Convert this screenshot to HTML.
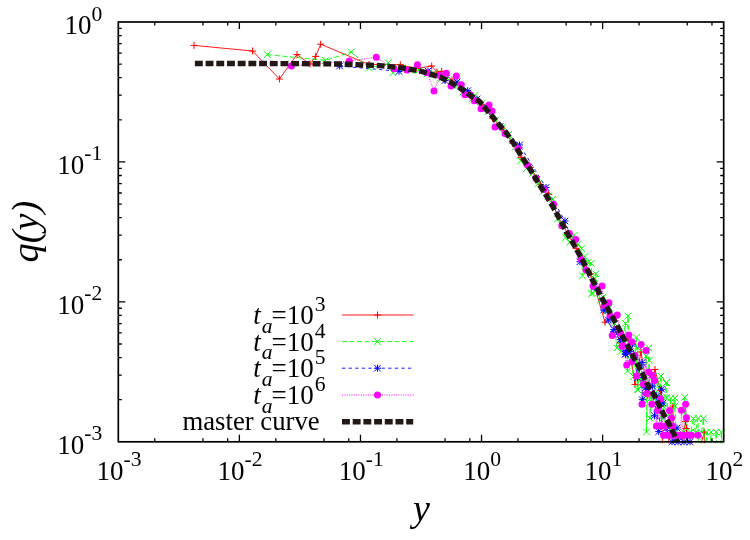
<!DOCTYPE html>
<html><head><meta charset="utf-8"><title>plot</title>
<style>html,body{margin:0;padding:0;background:#fff;}body{width:750px;height:540px;overflow:hidden;}svg{display:block;will-change:transform;}text{font-family:"Liberation Serif",serif;fill:#000;}</style></head><body>
<svg width="750" height="540" viewBox="0 0 750 540">
<rect width="750" height="540" fill="#fff"/>
<defs><clipPath id="c"><rect x="118.3" y="22.0" width="605.4" height="421.3"/></clipPath></defs>
<g clip-path="url(#c)" fill="none" stroke-linecap="butt">
<polyline points="194.0,45.4 252.6,51.0 279.4,79.0 297.0,54.6 310.0,64.0 315.7,56.4 320.7,44.2 369.0,64.5 400.3,64.7 416.0,68.5 431.7,66.0 437.0,72.0 441.7,71.3 452.0,80.0 461.0,88.0 470.0,96.1 482.3,104.3 492.8,118.4 502.2,128.2 512.5,143.1 521.2,157.4 530.4,167.3 540.5,184.5 548.6,194.3 558.1,216.7 567.4,233.4 576.2,248.4 583.6,261.3 590.8,273.9 605.0,322.2 612.0,318.0 620.0,343.0 628.0,338.0 635.0,384.4 641.0,352.0 648.0,395.0 655.0,369.5 660.5,390.4 664.0,480.0 672.8,406.0 675.0,480.0 685.5,421.5 686.5,428.5 690.0,480.0 704.4,432.2 706.0,480.0" stroke="#ff0000" stroke-width="0.9"/>
<polyline points="267.4,54.6 325.3,60.4 351.3,52.0 369.3,68.0 388.3,62.7 393.0,72.7 402.0,68.0 411.0,70.5 419.0,70.0 427.0,74.0 434.0,73.5 441.0,79.0 447.0,78.0 453.0,85.0 458.0,85.5 463.0,92.0 468.0,93.0 472.0,99.0 475.0,95.3 482.0,103.3 488.0,111.6 495.8,120.1 502.5,127.3 508.5,134.4 515.3,147.3 520.7,160.8 526.5,168.6 532.5,173.3 538.1,183.6 543.1,191.4 548.2,196.0 552.8,199.2 557.6,218.8 561.8,225.0 565.5,237.8 569.9,242.3 574.1,235.3 578.0,244.3 581.7,248.6 582.5,275.8 584.8,256.5 587.7,262.7 591.3,263.3 591.5,293.8 592.5,293.0 594.8,278.7 595.8,273.8 597.6,289.3 600.2,300.3 603.1,297.0 606.0,311.8 609.2,307.7 611.7,320.8 614.3,323.3 616.8,347.9 619.8,344.2 621.0,351.5 622.7,340.7 625.3,323.3 627.6,371.0 627.9,316.1 630.8,360.5 633.5,376.5 636.2,337.5 637.3,389.4 637.8,347.8 638.0,390.0 638.7,365.4 641.2,382.9 643.8,398.1 646.2,356.0 646.5,432.0 648.7,347.9 649.4,360.3 650.0,418.0 650.8,398.1 653.2,376.5 655.7,398.1 657.7,382.9 659.9,398.1 661.0,376.0 662.2,418.6 664.1,407.5 666.0,383.0 666.3,382.9 666.5,382.5 666.7,397.5 668.8,418.6 670.7,398.1 673.0,432.2 674.9,398.1 675.0,406.0 677.3,474.3 679.2,449.6 681.4,480.0 683.8,432.2 684.7,397.3 686.2,418.6 688.6,480.0 690.8,432.2 693.4,418.6 695.5,432.2 698.0,418.6 699.6,480.0 701.5,432.2 703.5,418.6 705.0,480.0 706.5,432.2 708.8,480.0 711.0,432.2 713.5,480.0 716.2,432.2 718.8,480.0 721.4,432.2 723.5,480.0" stroke="#00ff00" stroke-width="0.9" stroke-dasharray="5 2.5"/>
<polyline points="339.7,66.0 399.0,71.3 428.0,71.0 445.0,80.5 457.0,82.0 467.7,90.7 477.0,99.0 484.0,108.0 500.0,126.5 519.5,145.0 546.0,187.5 565.0,221.0 580.0,261.7 594.2,287.1 603.7,310.0 608.3,320.0 613.4,334.2 613.9,329.4 620.3,339.6 625.3,354.3 625.6,353.9 626.4,350.4 630.0,351.7 632.5,344.0 637.5,377.6 642.0,362.6 642.3,399.7 645.6,387.6 647.2,389.2 652.6,386.1 654.5,415.8 656.7,396.0 658.7,431.6 661.6,389.2 663.0,403.0 666.1,428.2 672.0,441.8 677.0,428.0 678.0,441.8 684.0,441.8 690.0,441.8" stroke="#0000ff" stroke-width="0.9" stroke-dasharray="3.3 3.3"/>
<polyline points="291.4,66.0 349.3,61.0 376.3,57.3 394.0,68.7 407.0,70.0 417.4,64.7 427.0,72.7 434.0,91.0 439.7,75.3 446.3,73.3 451.0,86.0 456.3,76.0 461.3,84.7 465.0,94.7 470.3,94.7 474.3,100.7 481.0,108.7 489.0,105.0 492.0,111.0 495.0,127.0 505.0,133.4 517.9,148.6 527.4,165.0 536.1,178.5 543.9,189.4 553.6,204.2 561.8,225.8 569.4,233.6 575.8,239.4 581.0,259.0 586.0,270.0 593.0,286.0 602.0,286.0 604.4,305.6 608.9,302.8 610.0,315.6 612.2,335.6 617.2,315.0 620.6,333.3 622.0,346.4 623.3,345.6 626.7,365.0 628.9,335.0 631.7,341.7 631.8,361.7 635.0,355.6 636.4,376.0 641.1,344.5 642.0,404.3 643.3,383.9 646.1,350.6 647.0,393.5 648.9,371.9 651.8,404.3 652.6,375.6 654.5,380.5 656.4,426.0 657.8,410.3 660.6,426.0 660.7,398.7 663.5,435.3 665.2,426.0 666.6,435.3 669.0,435.3 669.5,410.5 671.5,418.0 672.0,435.3 672.6,426.0 675.0,435.3 678.5,435.3 680.5,435.3 681.4,410.3 683.0,435.3 685.5,435.3 685.6,404.3 686.5,417.7 688.5,435.3 691.5,435.3 698.0,435.3" stroke="#ff00ff" stroke-width="0.9" stroke-dasharray="1.1 1.25"/>
</g>
<path d="M190.5,45.4h7.0M194.0,41.9v7.0M249.1,51.0h7.0M252.6,47.5v7.0M275.9,79.0h7.0M279.4,75.5v7.0M293.5,54.6h7.0M297.0,51.1v7.0M306.5,64.0h7.0M310.0,60.5v7.0M312.2,56.4h7.0M315.7,52.9v7.0M317.2,44.2h7.0M320.7,40.7v7.0M365.5,64.5h7.0M369.0,61.0v7.0M396.8,64.7h7.0M400.3,61.2v7.0M412.5,68.5h7.0M416.0,65.0v7.0M428.2,66.0h7.0M431.7,62.5v7.0M433.5,72.0h7.0M437.0,68.5v7.0M438.2,71.3h7.0M441.7,67.8v7.0M448.5,80.0h7.0M452.0,76.5v7.0M457.5,88.0h7.0M461.0,84.5v7.0M466.5,96.1h7.0M470.0,92.6v7.0M478.8,104.3h7.0M482.3,100.8v7.0M489.3,118.4h7.0M492.8,114.9v7.0M498.7,128.2h7.0M502.2,124.7v7.0M509.0,143.1h7.0M512.5,139.6v7.0M517.7,157.4h7.0M521.2,153.9v7.0M526.9,167.3h7.0M530.4,163.8v7.0M537.0,184.5h7.0M540.5,181.0v7.0M545.1,194.3h7.0M548.6,190.8v7.0M554.6,216.7h7.0M558.1,213.2v7.0M563.9,233.4h7.0M567.4,229.9v7.0M572.7,248.4h7.0M576.2,244.9v7.0M580.1,261.3h7.0M583.6,257.8v7.0M587.3,273.9h7.0M590.8,270.4v7.0M601.5,322.2h7.0M605.0,318.7v7.0M608.5,318.0h7.0M612.0,314.5v7.0M616.5,343.0h7.0M620.0,339.5v7.0M624.5,338.0h7.0M628.0,334.5v7.0M631.5,384.4h7.0M635.0,380.9v7.0M637.5,352.0h7.0M641.0,348.5v7.0M644.5,395.0h7.0M648.0,391.5v7.0M651.5,369.5h7.0M655.0,366.0v7.0M657.0,390.4h7.0M660.5,386.9v7.0M669.3,406.0h7.0M672.8,402.5v7.0M682.0,421.5h7.0M685.5,418.0v7.0M683.0,428.5h7.0M686.5,425.0v7.0M700.9,432.2h7.0M704.4,428.7v7.0" stroke="#ff0000" stroke-width="1.0" fill="none"/>
<path d="M264.1,51.3l6.6,6.6M264.1,57.9l6.6,-6.6M322.0,57.1l6.6,6.6M322.0,63.7l6.6,-6.6M348.0,48.7l6.6,6.6M348.0,55.3l6.6,-6.6M366.0,64.7l6.6,6.6M366.0,71.3l6.6,-6.6M385.0,59.4l6.6,6.6M385.0,66.0l6.6,-6.6M389.7,69.4l6.6,6.6M389.7,76.0l6.6,-6.6M398.7,64.7l6.6,6.6M398.7,71.3l6.6,-6.6M407.7,67.2l6.6,6.6M407.7,73.8l6.6,-6.6M415.7,66.7l6.6,6.6M415.7,73.3l6.6,-6.6M423.7,70.7l6.6,6.6M423.7,77.3l6.6,-6.6M430.7,70.2l6.6,6.6M430.7,76.8l6.6,-6.6M437.7,75.7l6.6,6.6M437.7,82.3l6.6,-6.6M443.7,74.7l6.6,6.6M443.7,81.3l6.6,-6.6M449.7,81.7l6.6,6.6M449.7,88.3l6.6,-6.6M454.7,82.2l6.6,6.6M454.7,88.8l6.6,-6.6M459.7,88.7l6.6,6.6M459.7,95.3l6.6,-6.6M464.7,89.7l6.6,6.6M464.7,96.3l6.6,-6.6M468.7,95.7l6.6,6.6M468.7,102.3l6.6,-6.6M471.7,92.0l6.6,6.6M471.7,98.6l6.6,-6.6M478.7,100.0l6.6,6.6M478.7,106.6l6.6,-6.6M484.7,108.3l6.6,6.6M484.7,114.9l6.6,-6.6M492.5,116.8l6.6,6.6M492.5,123.4l6.6,-6.6M499.2,124.0l6.6,6.6M499.2,130.6l6.6,-6.6M505.2,131.1l6.6,6.6M505.2,137.7l6.6,-6.6M512.0,144.0l6.6,6.6M512.0,150.6l6.6,-6.6M517.4,157.5l6.6,6.6M517.4,164.1l6.6,-6.6M523.2,165.3l6.6,6.6M523.2,171.9l6.6,-6.6M529.2,170.0l6.6,6.6M529.2,176.6l6.6,-6.6M534.8,180.3l6.6,6.6M534.8,186.9l6.6,-6.6M539.8,188.1l6.6,6.6M539.8,194.7l6.6,-6.6M544.9,192.7l6.6,6.6M544.9,199.3l6.6,-6.6M549.5,195.9l6.6,6.6M549.5,202.5l6.6,-6.6M554.3,215.5l6.6,6.6M554.3,222.1l6.6,-6.6M558.5,221.7l6.6,6.6M558.5,228.3l6.6,-6.6M562.2,234.5l6.6,6.6M562.2,241.1l6.6,-6.6M566.6,239.0l6.6,6.6M566.6,245.6l6.6,-6.6M570.8,232.0l6.6,6.6M570.8,238.6l6.6,-6.6M574.7,241.0l6.6,6.6M574.7,247.6l6.6,-6.6M578.4,245.3l6.6,6.6M578.4,251.9l6.6,-6.6M579.2,272.5l6.6,6.6M579.2,279.1l6.6,-6.6M581.5,253.2l6.6,6.6M581.5,259.8l6.6,-6.6M584.4,259.4l6.6,6.6M584.4,266.0l6.6,-6.6M588.0,260.0l6.6,6.6M588.0,266.6l6.6,-6.6M588.2,290.5l6.6,6.6M588.2,297.1l6.6,-6.6M589.2,289.7l6.6,6.6M589.2,296.3l6.6,-6.6M591.5,275.4l6.6,6.6M591.5,282.0l6.6,-6.6M592.5,270.5l6.6,6.6M592.5,277.1l6.6,-6.6M594.3,286.0l6.6,6.6M594.3,292.6l6.6,-6.6M596.9,297.0l6.6,6.6M596.9,303.6l6.6,-6.6M599.8,293.7l6.6,6.6M599.8,300.3l6.6,-6.6M602.7,308.5l6.6,6.6M602.7,315.1l6.6,-6.6M605.9,304.4l6.6,6.6M605.9,311.0l6.6,-6.6M608.4,317.5l6.6,6.6M608.4,324.1l6.6,-6.6M611.0,320.0l6.6,6.6M611.0,326.6l6.6,-6.6M613.5,344.6l6.6,6.6M613.5,351.2l6.6,-6.6M616.5,340.9l6.6,6.6M616.5,347.5l6.6,-6.6M617.7,348.2l6.6,6.6M617.7,354.8l6.6,-6.6M619.4,337.4l6.6,6.6M619.4,344.0l6.6,-6.6M622.0,320.0l6.6,6.6M622.0,326.6l6.6,-6.6M624.3,367.7l6.6,6.6M624.3,374.3l6.6,-6.6M624.6,312.8l6.6,6.6M624.6,319.4l6.6,-6.6M627.5,357.2l6.6,6.6M627.5,363.8l6.6,-6.6M630.2,373.2l6.6,6.6M630.2,379.8l6.6,-6.6M632.9,334.2l6.6,6.6M632.9,340.8l6.6,-6.6M634.0,386.1l6.6,6.6M634.0,392.7l6.6,-6.6M634.5,344.5l6.6,6.6M634.5,351.1l6.6,-6.6M634.7,386.7l6.6,6.6M634.7,393.3l6.6,-6.6M635.4,362.1l6.6,6.6M635.4,368.7l6.6,-6.6M637.9,379.6l6.6,6.6M637.9,386.2l6.6,-6.6M640.5,394.8l6.6,6.6M640.5,401.4l6.6,-6.6M642.9,352.7l6.6,6.6M642.9,359.3l6.6,-6.6M643.2,428.7l6.6,6.6M643.2,435.3l6.6,-6.6M645.4,344.6l6.6,6.6M645.4,351.2l6.6,-6.6M646.1,357.0l6.6,6.6M646.1,363.6l6.6,-6.6M646.7,414.7l6.6,6.6M646.7,421.3l6.6,-6.6M647.5,394.8l6.6,6.6M647.5,401.4l6.6,-6.6M649.9,373.2l6.6,6.6M649.9,379.8l6.6,-6.6M652.4,394.8l6.6,6.6M652.4,401.4l6.6,-6.6M654.4,379.6l6.6,6.6M654.4,386.2l6.6,-6.6M656.6,394.8l6.6,6.6M656.6,401.4l6.6,-6.6M657.7,372.7l6.6,6.6M657.7,379.3l6.6,-6.6M658.9,415.3l6.6,6.6M658.9,421.9l6.6,-6.6M660.8,404.2l6.6,6.6M660.8,410.8l6.6,-6.6M662.7,379.7l6.6,6.6M662.7,386.3l6.6,-6.6M663.0,379.6l6.6,6.6M663.0,386.2l6.6,-6.6M663.2,379.2l6.6,6.6M663.2,385.8l6.6,-6.6M663.4,394.2l6.6,6.6M663.4,400.8l6.6,-6.6M665.5,415.3l6.6,6.6M665.5,421.9l6.6,-6.6M667.4,394.8l6.6,6.6M667.4,401.4l6.6,-6.6M669.7,428.9l6.6,6.6M669.7,435.5l6.6,-6.6M671.6,394.8l6.6,6.6M671.6,401.4l6.6,-6.6M671.7,402.7l6.6,6.6M671.7,409.3l6.6,-6.6M680.5,428.9l6.6,6.6M680.5,435.5l6.6,-6.6M681.4,394.0l6.6,6.6M681.4,400.6l6.6,-6.6M682.9,415.3l6.6,6.6M682.9,421.9l6.6,-6.6M687.5,428.9l6.6,6.6M687.5,435.5l6.6,-6.6M690.1,415.3l6.6,6.6M690.1,421.9l6.6,-6.6M692.2,428.9l6.6,6.6M692.2,435.5l6.6,-6.6M694.7,415.3l6.6,6.6M694.7,421.9l6.6,-6.6M698.2,428.9l6.6,6.6M698.2,435.5l6.6,-6.6M700.2,415.3l6.6,6.6M700.2,421.9l6.6,-6.6M703.2,428.9l6.6,6.6M703.2,435.5l6.6,-6.6M707.7,428.9l6.6,6.6M707.7,435.5l6.6,-6.6M712.9,428.9l6.6,6.6M712.9,435.5l6.6,-6.6M718.1,428.9l6.6,6.6M718.1,435.5l6.6,-6.6" stroke="#00ff00" stroke-width="1.0" fill="none"/>
<path d="M336.2,66.0h7.0M339.7,62.5v7.0M336.4,62.7l6.6,6.6M336.4,69.3l6.6,-6.6M395.5,71.3h7.0M399.0,67.8v7.0M395.7,68.0l6.6,6.6M395.7,74.6l6.6,-6.6M424.5,71.0h7.0M428.0,67.5v7.0M424.7,67.7l6.6,6.6M424.7,74.3l6.6,-6.6M441.5,80.5h7.0M445.0,77.0v7.0M441.7,77.2l6.6,6.6M441.7,83.8l6.6,-6.6M453.5,82.0h7.0M457.0,78.5v7.0M453.7,78.7l6.6,6.6M453.7,85.3l6.6,-6.6M464.2,90.7h7.0M467.7,87.2v7.0M464.4,87.4l6.6,6.6M464.4,94.0l6.6,-6.6M473.5,99.0h7.0M477.0,95.5v7.0M473.7,95.7l6.6,6.6M473.7,102.3l6.6,-6.6M480.5,108.0h7.0M484.0,104.5v7.0M480.7,104.7l6.6,6.6M480.7,111.3l6.6,-6.6M496.5,126.5h7.0M500.0,123.0v7.0M496.7,123.2l6.6,6.6M496.7,129.8l6.6,-6.6M516.0,145.0h7.0M519.5,141.5v7.0M516.2,141.7l6.6,6.6M516.2,148.3l6.6,-6.6M542.5,187.5h7.0M546.0,184.0v7.0M542.7,184.2l6.6,6.6M542.7,190.8l6.6,-6.6M561.5,221.0h7.0M565.0,217.5v7.0M561.7,217.7l6.6,6.6M561.7,224.3l6.6,-6.6M576.5,261.7h7.0M580.0,258.2v7.0M576.7,258.4l6.6,6.6M576.7,265.0l6.6,-6.6M590.7,287.1h7.0M594.2,283.6v7.0M590.9,283.8l6.6,6.6M590.9,290.4l6.6,-6.6M600.2,310.0h7.0M603.7,306.5v7.0M600.4,306.7l6.6,6.6M600.4,313.3l6.6,-6.6M604.8,320.0h7.0M608.3,316.5v7.0M605.0,316.7l6.6,6.6M605.0,323.3l6.6,-6.6M609.9,334.2h7.0M613.4,330.7v7.0M610.1,330.9l6.6,6.6M610.1,337.5l6.6,-6.6M610.4,329.4h7.0M613.9,325.9v7.0M610.6,326.1l6.6,6.6M610.6,332.7l6.6,-6.6M616.8,339.6h7.0M620.3,336.1v7.0M617.0,336.3l6.6,6.6M617.0,342.9l6.6,-6.6M621.8,354.3h7.0M625.3,350.8v7.0M622.0,351.0l6.6,6.6M622.0,357.6l6.6,-6.6M622.1,353.9h7.0M625.6,350.4v7.0M622.3,350.6l6.6,6.6M622.3,357.2l6.6,-6.6M622.9,350.4h7.0M626.4,346.9v7.0M623.1,347.1l6.6,6.6M623.1,353.7l6.6,-6.6M626.5,351.7h7.0M630.0,348.2v7.0M626.7,348.4l6.6,6.6M626.7,355.0l6.6,-6.6M629.0,344.0h7.0M632.5,340.5v7.0M629.2,340.7l6.6,6.6M629.2,347.3l6.6,-6.6M634.0,377.6h7.0M637.5,374.1v7.0M634.2,374.3l6.6,6.6M634.2,380.9l6.6,-6.6M638.5,362.6h7.0M642.0,359.1v7.0M638.7,359.3l6.6,6.6M638.7,365.9l6.6,-6.6M638.8,399.7h7.0M642.3,396.2v7.0M639.0,396.4l6.6,6.6M639.0,403.0l6.6,-6.6M642.1,387.6h7.0M645.6,384.1v7.0M642.3,384.3l6.6,6.6M642.3,390.9l6.6,-6.6M643.7,389.2h7.0M647.2,385.7v7.0M643.9,385.9l6.6,6.6M643.9,392.5l6.6,-6.6M649.1,386.1h7.0M652.6,382.6v7.0M649.3,382.8l6.6,6.6M649.3,389.4l6.6,-6.6M651.0,415.8h7.0M654.5,412.3v7.0M651.2,412.5l6.6,6.6M651.2,419.1l6.6,-6.6M653.2,396.0h7.0M656.7,392.5v7.0M653.4,392.7l6.6,6.6M653.4,399.3l6.6,-6.6M655.2,431.6h7.0M658.7,428.1v7.0M655.4,428.3l6.6,6.6M655.4,434.9l6.6,-6.6M658.1,389.2h7.0M661.6,385.7v7.0M658.3,385.9l6.6,6.6M658.3,392.5l6.6,-6.6M659.5,403.0h7.0M663.0,399.5v7.0M659.7,399.7l6.6,6.6M659.7,406.3l6.6,-6.6M662.6,428.2h7.0M666.1,424.7v7.0M662.8,424.9l6.6,6.6M662.8,431.5l6.6,-6.6M668.5,441.8h7.0M672.0,438.3v7.0M668.7,438.5l6.6,6.6M668.7,445.1l6.6,-6.6M673.5,428.0h7.0M677.0,424.5v7.0M673.7,424.7l6.6,6.6M673.7,431.3l6.6,-6.6M674.5,441.8h7.0M678.0,438.3v7.0M674.7,438.5l6.6,6.6M674.7,445.1l6.6,-6.6M680.5,441.8h7.0M684.0,438.3v7.0M680.7,438.5l6.6,6.6M680.7,445.1l6.6,-6.6M686.5,441.8h7.0M690.0,438.3v7.0M686.7,438.5l6.6,6.6M686.7,445.1l6.6,-6.6" stroke="#0000ff" stroke-width="1.0" fill="none"/>
<g fill="#ff00ff"><circle cx="291.4" cy="66.0" r="3.5"/><circle cx="349.3" cy="61.0" r="3.5"/><circle cx="376.3" cy="57.3" r="3.5"/><circle cx="394.0" cy="68.7" r="3.5"/><circle cx="407.0" cy="70.0" r="3.5"/><circle cx="417.4" cy="64.7" r="3.5"/><circle cx="427.0" cy="72.7" r="3.5"/><circle cx="434.0" cy="91.0" r="3.5"/><circle cx="439.7" cy="75.3" r="3.5"/><circle cx="446.3" cy="73.3" r="3.5"/><circle cx="451.0" cy="86.0" r="3.5"/><circle cx="456.3" cy="76.0" r="3.5"/><circle cx="461.3" cy="84.7" r="3.5"/><circle cx="465.0" cy="94.7" r="3.5"/><circle cx="470.3" cy="94.7" r="3.5"/><circle cx="474.3" cy="100.7" r="3.5"/><circle cx="481.0" cy="108.7" r="3.5"/><circle cx="489.0" cy="105.0" r="3.5"/><circle cx="492.0" cy="111.0" r="3.5"/><circle cx="495.0" cy="127.0" r="3.5"/><circle cx="505.0" cy="133.4" r="3.5"/><circle cx="517.9" cy="148.6" r="3.5"/><circle cx="527.4" cy="165.0" r="3.5"/><circle cx="536.1" cy="178.5" r="3.5"/><circle cx="543.9" cy="189.4" r="3.5"/><circle cx="553.6" cy="204.2" r="3.5"/><circle cx="561.8" cy="225.8" r="3.5"/><circle cx="569.4" cy="233.6" r="3.5"/><circle cx="575.8" cy="239.4" r="3.5"/><circle cx="581.0" cy="259.0" r="3.5"/><circle cx="586.0" cy="270.0" r="3.5"/><circle cx="593.0" cy="286.0" r="3.5"/><circle cx="602.0" cy="286.0" r="3.5"/><circle cx="604.4" cy="305.6" r="3.5"/><circle cx="608.9" cy="302.8" r="3.5"/><circle cx="610.0" cy="315.6" r="3.5"/><circle cx="612.2" cy="335.6" r="3.5"/><circle cx="617.2" cy="315.0" r="3.5"/><circle cx="620.6" cy="333.3" r="3.5"/><circle cx="622.0" cy="346.4" r="3.5"/><circle cx="623.3" cy="345.6" r="3.5"/><circle cx="626.7" cy="365.0" r="3.5"/><circle cx="628.9" cy="335.0" r="3.5"/><circle cx="631.7" cy="341.7" r="3.5"/><circle cx="631.8" cy="361.7" r="3.5"/><circle cx="635.0" cy="355.6" r="3.5"/><circle cx="636.4" cy="376.0" r="3.5"/><circle cx="641.1" cy="344.5" r="3.5"/><circle cx="642.0" cy="404.3" r="3.5"/><circle cx="643.3" cy="383.9" r="3.5"/><circle cx="646.1" cy="350.6" r="3.5"/><circle cx="647.0" cy="393.5" r="3.5"/><circle cx="648.9" cy="371.9" r="3.5"/><circle cx="651.8" cy="404.3" r="3.5"/><circle cx="652.6" cy="375.6" r="3.5"/><circle cx="654.5" cy="380.5" r="3.5"/><circle cx="656.4" cy="426.0" r="3.5"/><circle cx="657.8" cy="410.3" r="3.5"/><circle cx="660.6" cy="426.0" r="3.5"/><circle cx="660.7" cy="398.7" r="3.5"/><circle cx="663.5" cy="435.3" r="3.5"/><circle cx="665.2" cy="426.0" r="3.5"/><circle cx="666.6" cy="435.3" r="3.5"/><circle cx="669.0" cy="435.3" r="3.5"/><circle cx="669.5" cy="410.5" r="3.5"/><circle cx="671.5" cy="418.0" r="3.5"/><circle cx="672.0" cy="435.3" r="3.5"/><circle cx="672.6" cy="426.0" r="3.5"/><circle cx="675.0" cy="435.3" r="3.5"/><circle cx="678.5" cy="435.3" r="3.5"/><circle cx="680.5" cy="435.3" r="3.5"/><circle cx="681.4" cy="410.3" r="3.5"/><circle cx="683.0" cy="435.3" r="3.5"/><circle cx="685.5" cy="435.3" r="3.5"/><circle cx="685.6" cy="404.3" r="3.5"/><circle cx="686.5" cy="417.7" r="3.5"/><circle cx="688.5" cy="435.3" r="3.5"/><circle cx="691.5" cy="435.3" r="3.5"/><circle cx="698.0" cy="435.3" r="3.5"/></g>
<polyline points="194.9,63.5 300.0,63.6 340.0,64.0 380.0,65.6 400.0,67.6 420.0,71.0 440.0,77.0 450.0,82.0 460.0,88.0 480.0,102.0 492.0,116.0 499.0,124.5 506.0,132.4 513.0,142.3 518.0,150.4 524.0,160.0 530.0,169.0 536.0,179.0 541.0,187.0 546.0,195.0 552.0,205.0 557.0,214.0 562.0,223.0 567.0,233.0 573.0,243.0 578.0,252.0 583.0,261.0 588.0,271.0 593.0,281.0 598.0,290.0 603.0,300.0 608.0,309.0 613.0,318.0 618.0,327.0 624.0,339.0 629.0,348.0 634.0,358.0 639.0,367.0 644.0,377.0 648.6,387.0 653.0,393.0 658.0,403.0 663.0,413.0 668.0,422.0 673.0,432.0 677.5,441.8" fill="none" stroke="#231815" stroke-width="5.4" stroke-dasharray="7.9 2.8" stroke-linejoin="round"/>
<g fill="none">
<path d="M342.0,315.0H413.5" stroke="#ff0000" stroke-width="0.9"/>
<path d="M374.0,315.0h7.0M377.5,311.5v7.0" stroke="#ff0000" stroke-width="1.0"/>
<path d="M342.0,341.6H413.5" stroke="#00ff00" stroke-width="0.9" stroke-dasharray="5 2.5"/>
<path d="M374.2,338.3l6.6,6.6M374.2,344.9l6.6,-6.6" stroke="#00ff00" stroke-width="1.0"/>
<path d="M342.0,368.2H413.5" stroke="#0000ff" stroke-width="0.9" stroke-dasharray="3.3 3.3"/>
<path d="M374.0,368.2h7.0M377.5,364.7v7.0M374.2,364.9l6.6,6.6M374.2,371.5l6.6,-6.6" stroke="#0000ff" stroke-width="1.0"/>
<path d="M342.0,395.0H413.5" stroke="#ff00ff" stroke-width="0.9" stroke-dasharray="1.1 1.25"/>
<circle cx="377.5" cy="395.0" r="3.5" fill="#ff00ff" stroke="none"/>
<path d="M342.0,421.7H413.2" stroke="#231815" stroke-width="5.4" stroke-dasharray="7.9 2.8"/>
</g>
<g stroke="#000" fill="none" stroke-width="1.7">
<rect x="118.3" y="22.0" width="605.4" height="419.8"/>
<path d="M154.75,441.80v-3.5M154.75,22.00v3.5M202.93,441.80v-3.5M202.93,22.00v3.5M227.65,441.80v-3.5M227.65,22.00v3.5M239.38,441.80v-7.0M239.38,22.00v7.0M275.83,441.80v-3.5M275.83,22.00v3.5M324.01,441.80v-3.5M324.01,22.00v3.5M348.73,441.80v-3.5M348.73,22.00v3.5M360.46,441.80v-7.0M360.46,22.00v7.0M396.91,441.80v-3.5M396.91,22.00v3.5M445.09,441.80v-3.5M445.09,22.00v3.5M469.81,441.80v-3.5M469.81,22.00v3.5M481.54,441.80v-7.0M481.54,22.00v7.0M517.99,441.80v-3.5M517.99,22.00v3.5M566.17,441.80v-3.5M566.17,22.00v3.5M590.89,441.80v-3.5M590.89,22.00v3.5M602.62,441.80v-7.0M602.62,22.00v7.0M639.07,441.80v-3.5M639.07,22.00v3.5M687.25,441.80v-3.5M687.25,22.00v3.5M711.97,441.80v-3.5M711.97,22.00v3.5M118.30,399.68h3.5M723.70,399.68h-3.5M118.30,375.03h3.5M723.70,375.03h-3.5M118.30,357.55h3.5M723.70,357.55h-3.5M118.30,343.99h3.5M723.70,343.99h-3.5M118.30,332.91h3.5M723.70,332.91h-3.5M118.30,323.54h3.5M723.70,323.54h-3.5M118.30,315.43h3.5M723.70,315.43h-3.5M118.30,308.27h3.5M723.70,308.27h-3.5M118.30,301.87h7.0M723.70,301.87h-7.0M118.30,259.74h3.5M723.70,259.74h-3.5M118.30,235.10h3.5M723.70,235.10h-3.5M118.30,217.62h3.5M723.70,217.62h-3.5M118.30,204.06h3.5M723.70,204.06h-3.5M118.30,192.98h3.5M723.70,192.98h-3.5M118.30,183.61h3.5M723.70,183.61h-3.5M118.30,175.49h3.5M723.70,175.49h-3.5M118.30,168.34h3.5M723.70,168.34h-3.5M118.30,161.93h7.0M723.70,161.93h-7.0M118.30,119.81h3.5M723.70,119.81h-3.5M118.30,95.17h3.5M723.70,95.17h-3.5M118.30,77.69h3.5M723.70,77.69h-3.5M118.30,64.12h3.5M723.70,64.12h-3.5M118.30,53.04h3.5M723.70,53.04h-3.5M118.30,43.68h3.5M723.70,43.68h-3.5M118.30,35.56h3.5M723.70,35.56h-3.5M118.30,28.40h3.5M723.70,28.40h-3.5" stroke-width="1.3"/>
</g>
<text x="57.3" y="453.7" font-size="27">10</text><text x="84.3" y="440.3" font-size="21.6">-3</text>
<text x="57.3" y="313.8" font-size="27">10</text><text x="84.3" y="300.4" font-size="21.6">-2</text>
<text x="57.3" y="173.8" font-size="27">10</text><text x="84.3" y="160.4" font-size="21.6">-1</text>
<text x="64.5" y="33.9" font-size="27">10</text><text x="91.5" y="20.5" font-size="21.6">0</text>
<text x="96.5" y="479.7" font-size="27">10</text><text x="123.5" y="466.3" font-size="21.6">-3</text>
<text x="217.6" y="479.7" font-size="27">10</text><text x="244.6" y="466.3" font-size="21.6">-2</text>
<text x="338.7" y="479.7" font-size="27">10</text><text x="365.7" y="466.3" font-size="21.6">-1</text>
<text x="463.3" y="479.7" font-size="27">10</text><text x="490.3" y="466.3" font-size="21.6">0</text>
<text x="584.4" y="479.7" font-size="27">10</text><text x="611.4" y="466.3" font-size="21.6">1</text>
<text x="705.5" y="479.7" font-size="27">10</text><text x="732.5" y="466.3" font-size="21.6">2</text>
<text x="421.5" y="521.1" font-size="38" font-style="italic" text-anchor="middle">y</text>
<text transform="translate(37.5,231.6) rotate(-90)" font-size="38.4" font-style="italic" text-anchor="middle">q(y)</text>
<text x="253.2" y="324.0" font-size="27" font-style="italic">t</text><text x="261.7" y="332.6" font-size="21.6" font-style="italic">a</text><text x="271.5" y="324.0" font-size="27">=10</text><text x="314.7" y="311.1" font-size="21.6">3</text>
<text x="253.2" y="350.6" font-size="27" font-style="italic">t</text><text x="261.7" y="359.2" font-size="21.6" font-style="italic">a</text><text x="271.5" y="350.6" font-size="27">=10</text><text x="314.7" y="337.7" font-size="21.6">4</text>
<text x="253.2" y="377.2" font-size="27" font-style="italic">t</text><text x="261.7" y="385.8" font-size="21.6" font-style="italic">a</text><text x="271.5" y="377.2" font-size="27">=10</text><text x="314.7" y="364.3" font-size="21.6">5</text>
<text x="253.2" y="404.0" font-size="27" font-style="italic">t</text><text x="261.7" y="412.6" font-size="21.6" font-style="italic">a</text><text x="271.5" y="404.0" font-size="27">=10</text><text x="314.7" y="391.1" font-size="21.6">6</text>
<text x="319.6" y="429.7" font-size="26.7" text-anchor="end">master curve</text>
</svg></body></html>
